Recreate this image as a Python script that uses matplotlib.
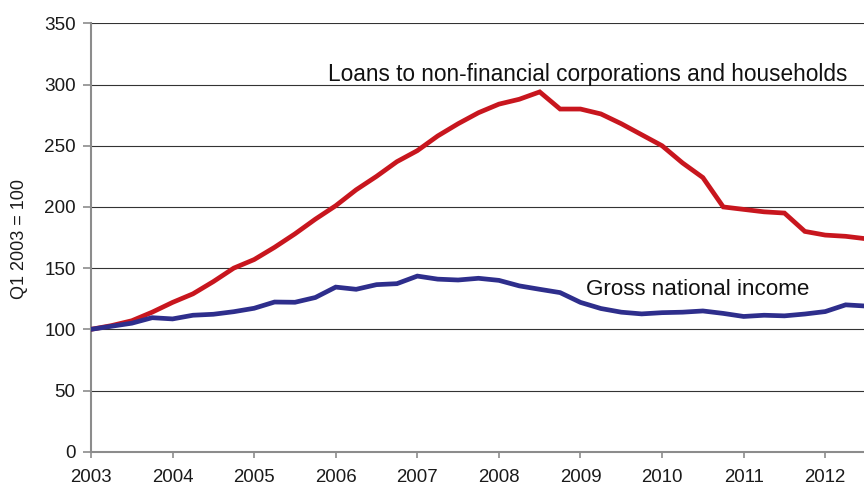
# loans vs gross national income, index Q1 2003 = 100
import numpy as np
import matplotlib.pyplot as plt

plt.rcParams['font.family'] = ['Liberation Sans', 'DejaVu Sans']

years = list(range(2003, 2013))

# quarterly index values, 2003 Q1 onwards
loans = [100, 103, 107, 114, 122, 129, 139, 150, 157, 167,
         178, 190, 201, 214, 225, 237, 246, 258, 268, 277,
         284, 288, 294, 280, 280, 276, 268, 259, 250, 236,
         224, 200, 198, 196, 195, 180, 177, 176, 174]
gni = [100, 102.5, 105, 109.5, 108.5, 111.5, 112.3, 114.4, 117.2, 122.3,
       122.1, 126, 134.5, 132.7, 136.5, 137.3, 143.5, 141, 140.3, 141.7,
       140, 135.5, 132.7, 130, 122, 117, 114, 112.6, 113.6, 114,
       115, 113, 110.5, 111.5, 111, 112.5, 114.5, 120, 119]

label_loans = 'Loans to non-financial corporations and households'
label_gni = 'Gross national income'
ylabel = 'Q1 2003 = 100'

red = '#C8161E'
blue = '#2E2E8C'


def plot_chart():
    fig = plt.figure(figsize=(8.64, 4.87), dpi=100)
    ax = fig.add_axes([0.1053, 0.0725, 0.8947, 0.8795])

    q = np.arange(len(loans))
    ax.plot(q, loans, color=red, lw=3.4, solid_joinstyle='miter', zorder=3)
    ax.plot(q, gni, color=blue, lw=3.4, solid_joinstyle='miter', zorder=3)

    ax.set_xlim(0, 37.9)
    ax.set_ylim(0, 350)
    ax.set_yticks(range(0, 351, 50))
    ax.set_xticks([4 * i for i in range(len(years))])
    ax.set_xticklabels([str(y) for y in years])

    for v in range(50, 351, 50):
        ax.axhline(v, color='#333333', lw=0.8, zorder=1)

    for s in ['top', 'right']:
        ax.spines[s].set_visible(False)
    for s in ['left', 'bottom']:
        ax.spines[s].set_color('#8c8c8c')
        ax.spines[s].set_linewidth(1.5)

    ax.tick_params(axis='y', direction='out', length=6, width=1.2,
                   color='#8c8c8c', labelsize=13.6, pad=5, labelcolor='#1a1a1a')
    ax.tick_params(axis='x', direction='out', length=4, width=1.2,
                   color='#8c8c8c', labelsize=13.4, pad=8.5, labelcolor='#1a1a1a')

    ax.text(24.36, 303, label_loans, ha='center', va='baseline',
            fontsize=16.3, color='#111111')
    ax.text(29.75, 128, label_gni, ha='center', va='baseline',
            fontsize=16.1, color='#111111')

    fig.text(0.022, 0.51, ylabel, rotation=90, ha='center', va='center',
             fontsize=13, color='#1a1a1a')

    fig.savefig('out.png', dpi=100)
    plt.close(fig)


if __name__ == "__main__":
    plot_chart()
